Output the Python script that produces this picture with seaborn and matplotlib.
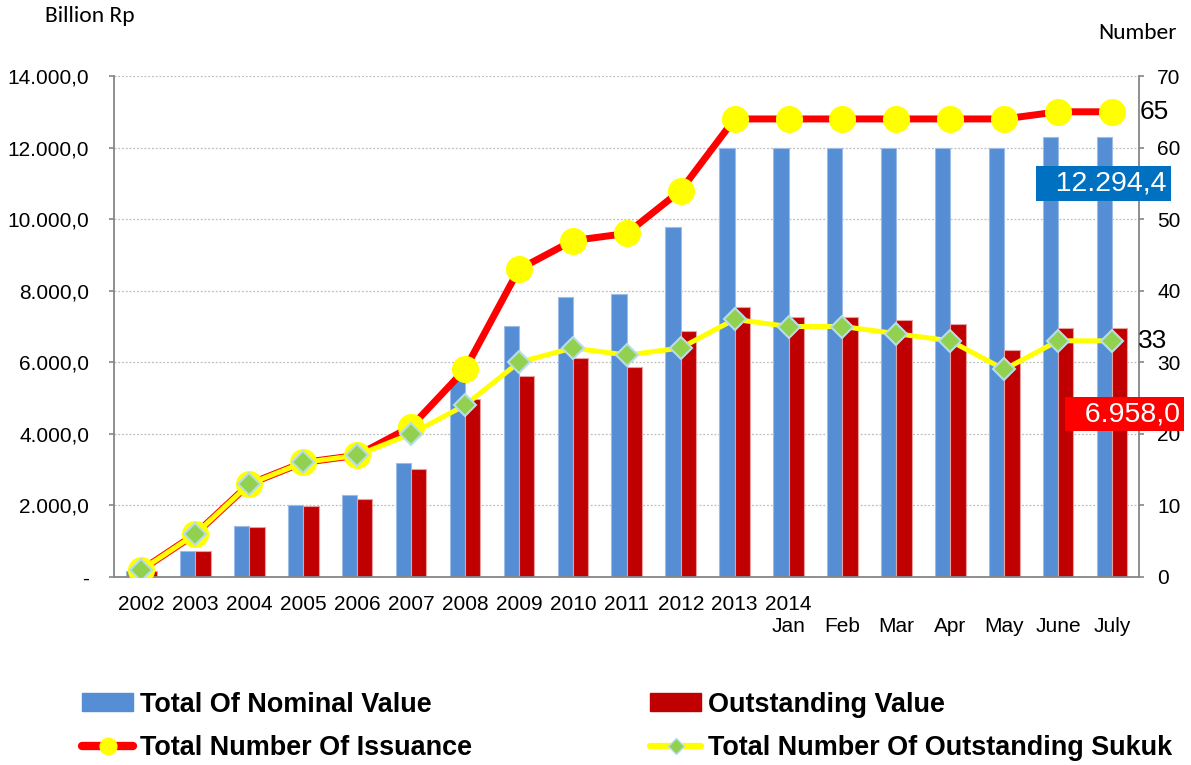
import numpy as np
import pandas as pd
import matplotlib
matplotlib.use("Agg")
import matplotlib.pyplot as plt
import seaborn as sns
from matplotlib import font_manager
from matplotlib.patches import Patch
from matplotlib.lines import Line2D
from matplotlib.transforms import blended_transform_factory

# ---------------- data ----------------
categories = ["2002", "2003", "2004", "2005", "2006", "2007", "2008", "2009",
              "2010", "2011", "2012", "2013", "Jan 2014", "Feb 2014", "Mar 2014",
              "Apr 2014", "May 2014", "June 2014", "July 2014"]
tick_labels = ["2002", "2003", "2004", "2005", "2006", "2007", "2008", "2009",
               "2010", "2011", "2012", "2013", "2014\nJan", "\nFeb", "\nMar",
               "\nApr", "\nMay", "\nJune", "\nJuly"]
nominal_value = [175, 740, 1424, 2003, 2282, 3175, 5503, 7011, 7812, 7905,
                 9786, 12000, 12000, 12000, 12000, 12000, 12000, 12294.4, 12294.4]
outstanding_value = [175, 740, 1388, 1983, 2170, 3026, 4963, 5615, 6117, 5875,
                     6881, 7542, 7254, 7254, 7188, 7058, 6350, 6958.0, 6958.0]
total_issuance = [1, 6, 13, 16, 17, 21, 29, 43, 47, 48, 54, 64, 64, 64, 64, 64, 64, 65, 65]
outstanding_sukuk = [1, 6, 13, 16, 17, 20, 24, 30, 32, 31, 32, 36, 35, 35, 34, 33, 29, 33, 33]
left_ticks = [0, 2000, 4000, 6000, 8000, 10000, 12000, 14000]
left_tick_labels = ["-", "2.000,0", "4.000,0", "6.000,0", "8.000,0",
                    "10.000,0", "12.000,0", "14.000,0"]
right_ticks = [0, 10, 20, 30, 40, 50, 60, 70]
series_names = ["Total Of Nominal Value", "Outstanding Value",
                "Total Number Of Issuance", "Total Number Of Outstanding Sukuk"]

# ---------------- style ----------------
BLUE = "#558ED5"
BLUE_EDGE = "#9DBDE6"
DRED = "#C00000"
DRED_EDGE = "#E6A0A0"
RED = "#FF0000"
YELLOW = "#FFFF00"
GREEN = "#92D050"
DIAM_EDGE = "#B7DEE8"
GRAY = "#868686"

sns.set_style("white")
plt.rcParams["font.family"] = ["Liberation Sans", "DejaVu Sans"]
plt.rcParams["text.color"] = "black"

font_names = {f.name for f in font_manager.fontManager.ttflist}
calib_family = "Carlito" if "Carlito" in font_names else ("Lato" if "Lato" in font_names else "DejaVu Sans")
if "Liberation Sans Narrow" in font_names:
    legend_family = ["Liberation Sans Narrow", "Liberation Sans"]
else:
    legend_family = ["Liberation Sans", "DejaVu Sans"]

W, H = 1191, 765
fig = plt.figure(figsize=(W / 100, H / 100), dpi=100)
renderer = fig.canvas.get_renderer()

def fit_size(text, family, weight, base, target_px):
    t = fig.text(0, 0, text, fontsize=base, family=family, weight=weight)
    w = t.get_window_extent(renderer=renderer).width
    t.remove()
    return base * target_px / w

L, R, T, B = 114, 1139, 76, 577
ax = fig.add_axes([L / W, 1 - B / H, (R - L) / W, (B - T) / H])

# ---------------- bars ----------------
bar_df = pd.DataFrame({
    "cat": categories * 2,
    "value": nominal_value + outstanding_value,
    "series": [series_names[0]] * len(categories) + [series_names[1]] * len(categories),
})
sns.barplot(data=bar_df, x="cat", y="value", hue="series", order=categories,
            hue_order=series_names[:2], palette=[BLUE, DRED], saturation=1,
            width=0.568, gap=0, errorbar=None, legend=False, ax=ax,
            linewidth=0.8, zorder=2)
for cont, ec in zip(ax.containers, [BLUE_EDGE, DRED_EDGE]):
    for p in cont:
        p.set_edgecolor(ec)

ax.yaxis.grid(True, color="#BDBDBD", linestyle=(0, (1.5, 1.5)), linewidth=0.9)
ax.set_axisbelow(True)

# ---------------- lines ----------------
ax2 = ax.twinx()
line_df = pd.DataFrame({"pos": np.arange(len(categories)),
                        "issuance": total_issuance,
                        "sukuk": outstanding_sukuk})
sns.lineplot(data=line_df, x="pos", y="issuance", ax=ax2, sort=False,
             color=RED, linewidth=5, marker="o", markersize=19.5,
             markerfacecolor=YELLOW, markeredgecolor=YELLOW, markeredgewidth=0,
             zorder=3)
sns.lineplot(data=line_df, x="pos", y="sukuk", ax=ax2, sort=False,
             color=YELLOW, linewidth=3.6, marker="D", markersize=11,
             markerfacecolor=GREEN, markeredgecolor=DIAM_EDGE, markeredgewidth=1.5,
             zorder=4)

# ---------------- axes ----------------
ax.set_ylim(0, 14000)
ax2.set_ylim(0, 70)
ax.set_xlim(-0.51, 18.5)
ax.set_xticks(range(len(categories)))
ax.set_xticklabels(tick_labels)
ax.set_yticks(left_ticks)
ax.set_yticklabels(left_tick_labels)
ax2.set_yticks(right_ticks)
for a in (ax, ax2):
    a.set_xlabel("")
    a.set_ylabel("")
    a.spines["top"].set_visible(False)
ax.spines["right"].set_visible(False)
ax2.spines["left"].set_visible(False)
ax2.spines["bottom"].set_visible(False)
for s in ("left", "bottom"):
    ax.spines[s].set_color(GRAY)
    ax.spines[s].set_linewidth(1.3)
ax2.spines["right"].set_color(GRAY)
ax2.spines["right"].set_linewidth(1.3)

ax.tick_params(axis="x", length=0, pad=13, labelsize=15, labelcolor="black")
ax.tick_params(axis="y", left=True, length=3.6, width=1.2, color=GRAY,
               pad=14.4, labelsize=15, labelcolor="black")
ax2.tick_params(axis="y", right=True, length=3.6, width=1.2, color=GRAY,
                pad=9.4, labelsize=15, labelcolor="black")

# ---------------- annotations ----------------
tr_l = blended_transform_factory(ax.transAxes, ax.transData)
tr_r = blended_transform_factory(ax2.transAxes, ax2.transData)
ax2.text(1.001, total_issuance[-1], "65", transform=tr_r, ha="left", va="center",
         fontsize=19, color="black", zorder=6)
ax2.text(0.999, outstanding_sukuk[-1], "33", transform=tr_r, ha="left", va="center",
         fontsize=19, color="black", zorder=6)
ax2.text(0.9654, 11000, "  12.294,4", transform=tr_l, ha="center", va="center",
         fontsize=20.5, color="white", zorder=7,
         bbox=dict(boxstyle="square,pad=0.15", facecolor="#0070C0", edgecolor="none"))
ax2.text(0.9859, 4550, "  6.958,0", transform=tr_l, ha="center", va="center",
         fontsize=20.5, color="white", zorder=7,
         bbox=dict(boxstyle="square,pad=0.15", facecolor=RED, edgecolor="none"))

fs_unit = fit_size("Billion Rp", calib_family, "normal", 16, 90)
fig.text(90 / W, 1 - 16 / H, "Billion Rp", family=calib_family, fontsize=fs_unit,
         ha="center", va="center", color="black")
fig.text(1138 / W, 1 - 33 / H, "Number", family=calib_family, fontsize=fs_unit,
         ha="center", va="center", color="black")

# ---------------- legend ----------------
fs_leg = fit_size(series_names[0], legend_family, "bold", 18, 292)
fs_px = fs_leg * 100 / 72
prop = dict(family=legend_family, weight="bold", size=fs_leg)
h_nom = Patch(facecolor=BLUE, edgecolor=BLUE)
h_out = Patch(facecolor=DRED, edgecolor=DRED)
h_iss = Line2D([], [], color=RED, linewidth=6, marker="o", markersize=12,
               markerfacecolor=YELLOW, markeredgecolor=YELLOW)
h_suk = Line2D([], [], color=YELLOW, linewidth=4.5, marker="D", markersize=8,
               markerfacecolor=GREEN, markeredgecolor=DIAM_EDGE, markeredgewidth=1)
leg_kw = dict(loc="center left", frameon=False, borderpad=0, borderaxespad=0,
              handlelength=51 / fs_px, handletextpad=7 / fs_px,
              handleheight=17 / fs_px,
              labelspacing=(43 - 0.94 * fs_px) / fs_px, prop=prop,
              labelcolor="black")
fig.legend([h_nom, h_iss], [series_names[0], series_names[2]],
           bbox_to_anchor=(82 / W, 1 - 726.5 / H), **leg_kw)
fig.legend([h_out, h_suk], [series_names[1], series_names[3]],
           bbox_to_anchor=(650 / W, 1 - 726.5 / H), **leg_kw)

fig.savefig("out.png", dpi=100)
